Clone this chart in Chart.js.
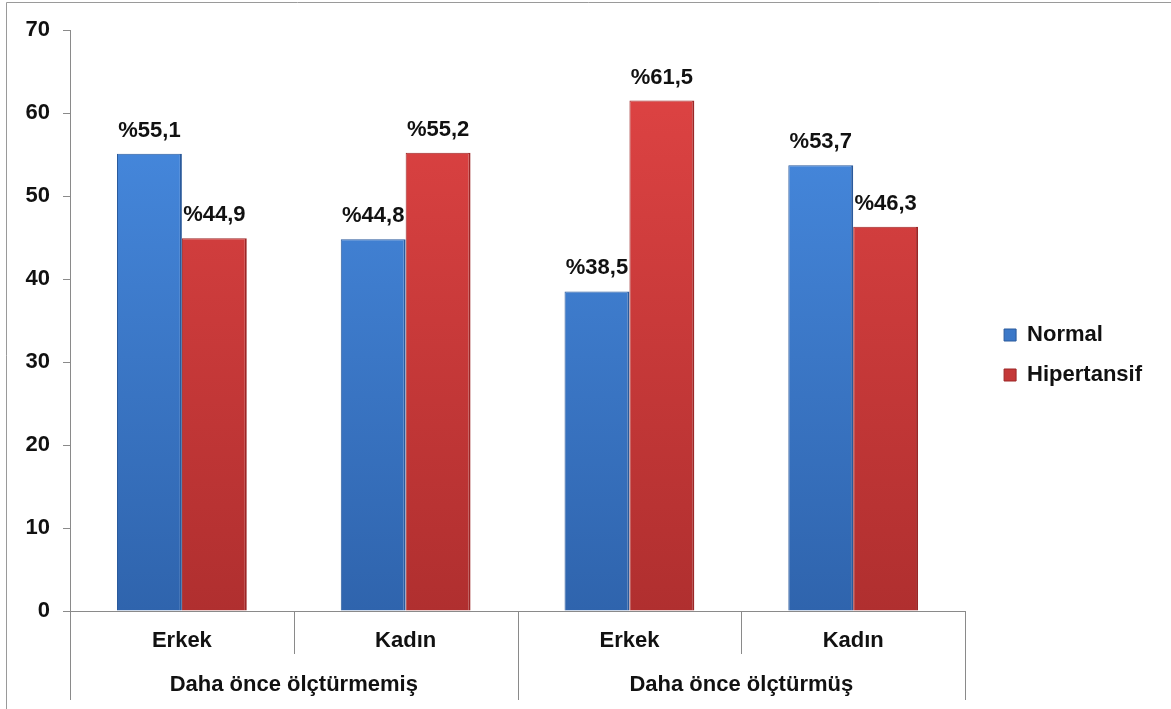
<!DOCTYPE html>
<html>
<head>
<meta charset="utf-8">
<script src="https://cdn.jsdelivr.net/npm/chart.js@4.4.1/dist/chart.umd.min.js"></script>
<style>
    html, body { margin: 0; padding: 0; background: #fff; }
    #kutu { width: 1171px; height: 709px; }
</style>
</head>
<body>
<div id="kutu"><canvas id="grafik" width="1171" height="709"></canvas></div>
<script>
// Veriler
const kategoriler = ['Erkek', 'Kadın', 'Erkek', 'Kadın'];
const gruplar = ['Daha önce ölçtürmemiş', 'Daha önce ölçtürmüş'];
const normal = [55.1, 44.8, 38.5, 53.7];
const hipertansif = [44.9, 55.2, 61.5, 46.3];
const yDegerleri = [0, 10, 20, 30, 40, 50, 60, 70];

Chart.defaults.font.family = "'Liberation Sans', Arial, sans-serif";
Chart.defaults.font.size = 22;
Chart.defaults.font.weight = 'bold';
Chart.defaults.color = '#111';

const cizgiRengi = '#8a8a8a';

// dikey degrade (ustte acik, altta koyu)
function degrade(ust, alt, duz) {
    return (c) => {
        const alan = c.chart.chartArea;
        if (!alan) return duz;
        const g = c.chart.ctx.createLinearGradient(0, alan.top, 0, alan.bottom);
        g.addColorStop(0, ust);
        g.addColorStop(1, alt);
        return g;
    };
}

// cubuklarin ustundeki yuzde etiketleri
const etiketEklentisi = {
    id: 'etiketler',
    afterDatasetsDraw(chart) {
        const ctx = chart.ctx;
        ctx.save();
        ctx.font = "bold 22px 'Liberation Sans', Arial, sans-serif";
        ctx.fillStyle = '#111';
        ctx.textAlign = 'center';
        ctx.textBaseline = 'alphabetic';
        chart.data.datasets.forEach((ds, i) => {
            chart.getDatasetMeta(i).data.forEach((el, j) => {
                const yazi = '%' + String(ds.data[j]).replace('.', ',');
                ctx.fillText(yazi, el.x, el.y - 17);
            });
        });
        ctx.restore();
    }
};

// x ekseni ayiraclari ve grup adlari
const eksenEklentisi = {
    id: 'gruplar',
    afterDraw(chart) {
        const x = chart.scales.x;
        const ctx = chart.ctx;
        const n = kategoriler.length;
        const grupBoyu = n / gruplar.length;
        const sinirlar = [];
        for (let i = 0; i <= n; i++) {
            if (i === 0) sinirlar.push(x.left);
            else if (i === n) sinirlar.push(x.right);
            else sinirlar.push((x.getPixelForValue(i - 1) + x.getPixelForValue(i)) / 2);
        }
        const y0 = x.top;
        ctx.save();
        ctx.strokeStyle = cizgiRengi;
        ctx.lineWidth = 1;
        sinirlar.forEach((sx, i) => {
            const px = Math.round(sx) + 0.5;
            ctx.beginPath();
            ctx.moveTo(px, y0);
            ctx.lineTo(px, i % grupBoyu === 0 ? y0 + 89 : y0 + 43);
            ctx.stroke();
        });
        ctx.font = "bold 22px 'Liberation Sans', Arial, sans-serif";
        ctx.fillStyle = '#111';
        ctx.textAlign = 'center';
        ctx.textBaseline = 'alphabetic';
        gruplar.forEach((g, i) => {
            const orta = (sinirlar[i * grupBoyu] + sinirlar[(i + 1) * grupBoyu]) / 2;
            ctx.fillText(g, orta, y0 + 80);
        });
        // resmin cercevesi
        ctx.strokeStyle = '#9a9a9a';
        ctx.beginPath();
        ctx.moveTo(6.5, 709);
        ctx.lineTo(6.5, 2.5);
        ctx.lineTo(1171, 2.5);
        ctx.stroke();
        ctx.restore();
    }
};

const ctx = document.getElementById('grafik').getContext('2d');
const grafik = new Chart(ctx, {
    type: 'bar',
    data: {
        labels: kategoriler,
        datasets: [{
            label: 'Normal',
            data: normal,
            backgroundColor: degrade('#4a8fe6', '#2f64ad', '#3b7bd0'),
            borderColor: '#2a5a9c',
            borderWidth: { left: 1, right: 2, top: 1, bottom: 0 },
            borderSkipped: 'bottom'
        }, {
            label: 'Hipertansif',
            data: hipertansif,
            backgroundColor: degrade('#e24545', '#b02f2f', '#d03a3a'),
            borderColor: '#9c2626',
            borderWidth: { left: 1, right: 2, top: 1, bottom: 0 },
            borderSkipped: 'bottom'
        }]
    },
    options: {
        responsive: false,
        animation: false,
        layout: {
            padding: { left: 0, right: 19, top: 30, bottom: 29 }
        },
        datasets: {
            bar: { barPercentage: 1, categoryPercentage: 0.58 }
        },
        plugins: {
            tooltip: { enabled: false },
            legend: {
                position: 'right',
                labels: {
                    boxWidth: 12,
                    boxHeight: 12,
                    padding: 18,
                    color: '#111',
                    font: { size: 22, weight: 'bold' }
                }
            }
        },
        scales: {
            x: {
                offset: true,
                grid: { display: false, drawTicks: false },
                border: { display: true, color: cizgiRengi },
                ticks: { padding: 17, color: '#111' },
                afterFit: (s) => { s.height = 69; }
            },
            y: {
                min: yDegerleri[0],
                max: yDegerleri[yDegerleri.length - 1],
                grid: { drawOnChartArea: false, drawTicks: true, tickLength: 7, color: cizgiRengi },
                border: { display: true, color: cizgiRengi },
                ticks: { stepSize: yDegerleri[1] - yDegerleri[0], padding: 13, color: '#111' },
                afterFit: (s) => { s.width = 70; }
            },
            bosluk: {
                type: 'linear',
                position: 'right',
                grid: { display: false },
                border: { display: false },
                ticks: { display: false },
                afterFit: (s) => { s.width = 21; }
            }
        }
    },
    plugins: [etiketEklentisi, eksenEklentisi]
});
</script>
</body>
</html>
